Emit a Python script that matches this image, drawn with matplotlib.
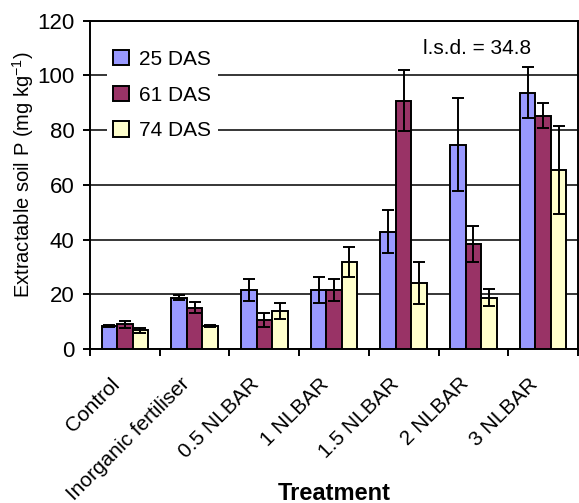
import matplotlib
matplotlib.use("Agg")
import matplotlib.pyplot as plt
import numpy as np
from matplotlib.transforms import ScaledTranslation

categories = ["Control", "Inorganic fertiliser", "0.5 NLBAR", "1 NLBAR",
              "1.5 NLBAR", "2 NLBAR", "3 NLBAR"]
series_names = ["25 DAS", "61 DAS", "74 DAS"]
das25 = [8.5, 18.8, 21.6, 21.6, 42.9, 74.7, 93.7]
das61 = [9.1, 15.0, 10.6, 21.6, 90.8, 38.4, 85.2]
das74 = [6.8, 8.4, 14.0, 31.8, 24.2, 18.8, 65.4]
err25 = [0.4, 0.8, 3.9, 4.8, 7.9, 17.0, 9.3]
err61 = [1.3, 2.0, 2.4, 3.9, 11.2, 6.6, 4.6]
err74 = [0.8, 0.5, 2.9, 5.6, 7.7, 3.0, 16.1]
colors = ["#9999FF", "#993366", "#FFFFCC"]
lsd_text = "l.s.d. = 34.8"
yticks = [0, 20, 40, 60, 80, 100, 120]

plt.rcParams['font.family'] = ['Liberation Sans', 'DejaVu Sans']
plt.rcParams['mathtext.fontset'] = 'custom'
plt.rcParams['mathtext.rm'] = 'Liberation Sans'
plt.rcParams['mathtext.it'] = 'Liberation Sans'

fig = plt.figure(figsize=(5.79, 5.03), dpi=100)
W, H = 579, 503
x0, x1, ytop, ybot = 90, 578, 20.7, 349
ax = fig.add_axes([x0 / W, 1 - ybot / H, (x1 - x0) / W, (ybot - ytop) / H])

x = np.arange(len(categories))
w = 0.222
vals = [das25, das61, das74]
errs = [err25, err61, err74]
for i, (v, e, c, n) in enumerate(zip(vals, errs, colors, series_names)):
    pos = x + (i - 1) * w
    ax.bar(pos, v, width=w, color=c, edgecolor='black', linewidth=1.4,
           label=n, zorder=3)
    ax.errorbar(pos, v, yerr=e, fmt='none', ecolor='black', elinewidth=1.4,
                capsize=4.3, capthick=1.4, zorder=4)

ax.set_xlim(-0.5, len(categories) - 0.5)
ax.set_ylim(0, 120)
ax.set_yticks(yticks)
ax.set_yticklabels([str(t) for t in yticks], fontsize=16)
ax.yaxis.grid(True, color='black', linewidth=1.1, zorder=0)
ax.set_axisbelow(True)

ax.set_xticks(np.arange(-0.5, len(categories), 1.0))
ax.set_xticklabels([])
ax.tick_params(axis='x', direction='out', length=5, width=1.4)
ax.tick_params(axis='y', direction='out', length=5, width=1.4, pad=6)
for s in ax.spines.values():
    s.set_linewidth(1.4)
    s.set_color('black')

trans = ax.get_xaxis_transform() + ScaledTranslation(-8 / 100, -32 / 100, fig.dpi_scale_trans)
for xi, lab in zip(x, categories):
    ax.text(xi, 0, lab, transform=trans, rotation=45, ha='right', va='center',
            rotation_mode='anchor', fontsize=15)

fig.text((x0 + x1) / 2 / W, 1 - 493 / H, "Treatment", ha='center', va='center',
         fontsize=17, fontweight='bold')
fig.text(23 / W, 1 - 298 / H, "Extractable soil P (mg kg$^{-1}$)", rotation=90,
         ha='center', va='bottom', fontsize=14.5)

ax.text(5.05, 110, lsd_text, ha='center', va='center', fontsize=15, zorder=5)

leg = ax.legend(loc='upper left', bbox_to_anchor=(0.035, 0.93), fontsize=15,
                frameon=True, fancybox=False, edgecolor='none', facecolor='white',
                framealpha=1, borderaxespad=0, borderpad=0.3, labelspacing=0.8,
                handlelength=0.75, handleheight=0.75, handletextpad=0.5)
leg.set_zorder(6)

fig.savefig("out.png", dpi=100)
